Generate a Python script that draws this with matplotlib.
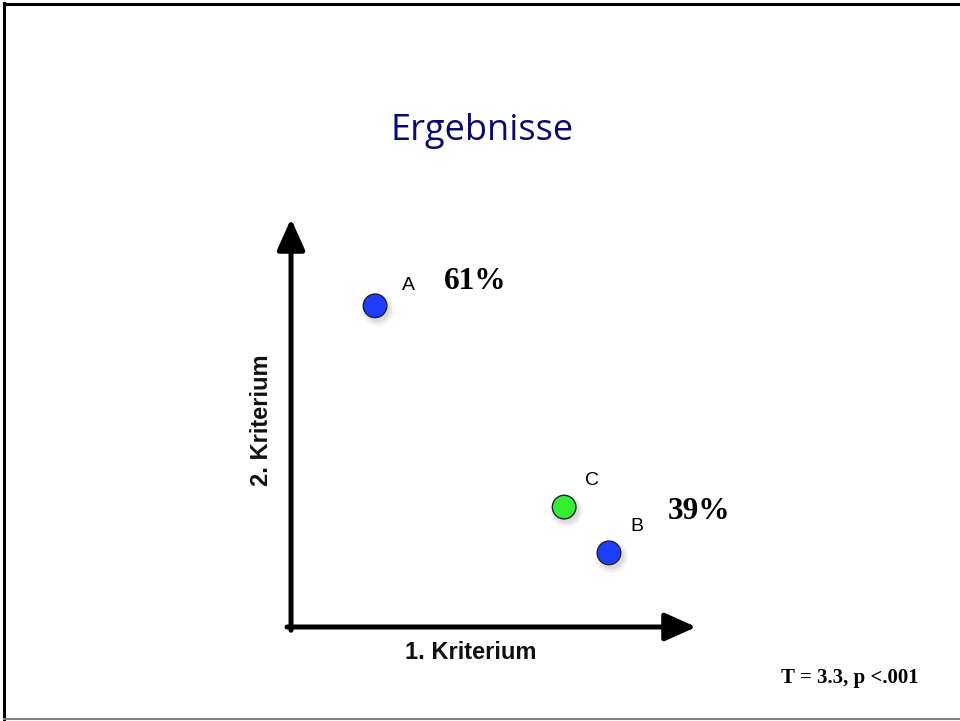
import matplotlib.pyplot as plt
from matplotlib.lines import Line2D

# Positions of the three options on the two criteria (0..100 along each arrow)
names = ['A', 'B', 'C']
crit1 = [21.3, 79.2, 68.1]
crit2 = [79.3, 18.3, 29.6]
colors = ['#1f3dff', '#1f3dff', '#33ee33']

# Shares of the two groups (A vs. B/C)
shares = [61, 39]
share_pos = [(46.0, 85.4), (101.5, 28.4)]

fig = plt.figure(figsize=(9.6, 7.21), dpi=100)
fig.patch.set_facecolor('white')

# slide frame: black top/left, grey bottom
fig.add_artist(Line2D([4 / 960, 4 / 960], [0, 1 - 3 / 721], color='black', lw=2.2, transform=fig.transFigure))
fig.add_artist(Line2D([4 / 960, 1], [1 - 4 / 721, 1 - 4 / 721], color='black', lw=2.2, transform=fig.transFigure))
fig.add_artist(Line2D([4 / 960, 1], [2 / 721, 2 / 721], color='#808080', lw=1.5, transform=fig.transFigure))

fig.text(482 / 960, 1 - 131 / 721, 'Ergebnisse', ha='center', va='center',
         fontsize=26, color='#0a0a6e', family='Open Sans')

ax = fig.add_axes([289 / 960, 94 / 721, 404 / 960, 405 / 721])
ax.set_xlim(0, 100)
ax.set_ylim(0, 100)
ax.axis('off')

arrow = dict(arrowstyle='-|>,head_length=1.9,head_width=0.85', lw=3.6,
             color='black', shrinkA=0, shrinkB=0)
ax.annotate('', xy=(100.8, 0), xytext=(-0.5, 0), arrowprops=arrow, annotation_clip=False)
ax.annotate('', xy=(0.5, 100.8), xytext=(0.5, -0.8), arrowprops=arrow, annotation_clip=False)

ax.text(45, -6.4, '1. Kriterium', ha='center', va='center', fontsize=17,
        fontweight='bold', family='Liberation Sans', color='#111111', clip_on=False)
ax.text(-6.9, 51.1, '2. Kriterium', ha='center', va='center', fontsize=17,
        fontweight='bold', family='Liberation Sans', color='#111111',
        rotation=90, clip_on=False)

# soft drop shadow under the dots
for k, a in enumerate([0.05, 0.07, 0.09]):
    ax.scatter([x + 0.5 for x in crit1], [y - 0.8 for y in crit2],
               s=(24 - 3 * k) ** 2, color='#555555', alpha=a, lw=0, zorder=2)

ax.scatter(crit1, crit2, s=17 ** 2, c=colors, edgecolors='#222233',
           linewidths=1.0, zorder=3, clip_on=False)

label_off = {'A': (24, 15), 'B': (20, 19), 'C': (20, 19)}
for n, x, y in zip(names, crit1, crit2):
    ax.annotate(n, (x, y), xytext=label_off[n], textcoords='offset points',
                ha='center', va='center', fontsize=14, family='Liberation Sans',
                annotation_clip=False)

for s, (x, y) in zip(shares, share_pos):
    ax.text(x, y, f'{s}%', ha='center', va='center', fontsize=22.5,
            fontweight='bold', family='Liberation Serif', clip_on=False)

fig.text(850 / 960, 1 - 678 / 721, 'T = 3.3, p <.001', ha='center', va='center',
         fontsize=15, fontweight='bold', family='Liberation Serif')

fig.savefig('out.png', dpi=100)
